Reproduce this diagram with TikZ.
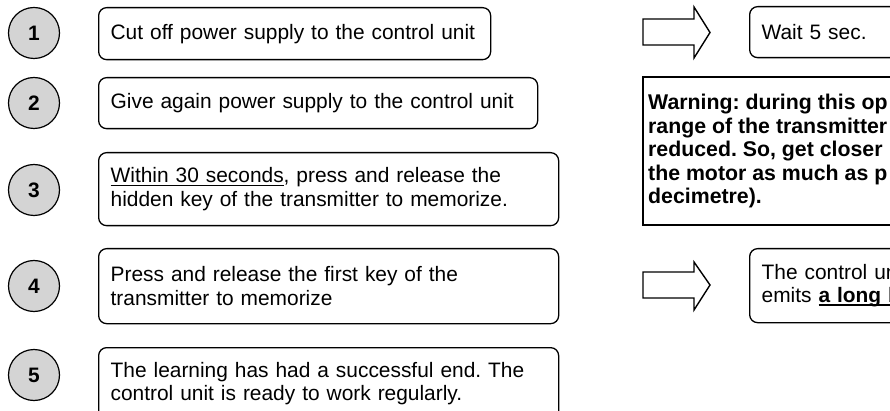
\documentclass[tikz,border=0pt]{standalone}
\usepackage{fontspec}
\setmainfont{Liberation Sans}
\frenchspacing
\definecolor{numgray}{RGB}{212,212,212}
% underline drawn as a rule under the boxed text
\newcommand\ulword[2][1.2pt]{\setbox0\hbox{#2}\rlap{\rule[-3pt]{\wd0}{#1}}\box0}
\begin{document}
\begin{tikzpicture}[x=1pt,y=-1pt,
  txt/.style={font=\fontsize{20.9}{23.5}\selectfont},
  stepnum/.style={circle, draw, line width=1.2pt, fill=numgray, minimum size=51pt,
    inner sep=0pt, font=\fontsize{20.9}{23.5}\selectfont\bfseries},
  stepbox/.style={draw, rounded corners=8pt, line width=1.3pt, anchor=north west,
    align=left, inner xsep=12pt, inner ysep=0pt, txt},
  blockarrow/.style={draw, line width=1.4pt, line join=miter, fill=white},
]
\useasboundingbox (0,0) rectangle (890,411);
\clip (0,0) rectangle (890,411);

% numbered steps
\node[stepnum] (c1) at (34,33)  {1};
\node[stepnum] (c2) at (34,103) {2};
\node[stepnum] (c3) at (34,190) {3};
\node[stepnum] (c4) at (34,286) {4};
\node[stepnum] (c5) at (34,375) {5};

% step descriptions
\node[stepbox, text width=368pt, minimum height=52pt] (b1) at (98,7)
  {Cut off power supply to the control unit};
\node[stepbox, text width=415pt, minimum height=51pt] (b2) at (98,77)
  {Give again power supply to the control unit};
\node[stepbox, text width=436pt, minimum height=73pt] (b3) at (98,152)
  {\ulword{Within 30 seconds}, press and release the\\hidden key of the transmitter to memorize.};
\node[stepbox, text width=436pt, minimum height=75pt] (b4) at (98,248)
  {Press and release the first key of the\\transmitter to memorize};
\node[stepbox, text width=436pt, minimum height=72pt] (b5) at (98,347)
  {The learning has had a successful end. The\\control unit is ready to work regularly.};

% block arrows
\draw[blockarrow] (643,19) -- (694,19) -- (694,7) -- (710,32.5) -- (694,58)
  -- (694,45) -- (643,45) -- cycle;
\draw[blockarrow] (643,272) -- (694,272) -- (694,262) -- (710,285) -- (694,310)
  -- (694,298) -- (643,298) -- cycle;

% results
\node[stepbox, text width=220pt, minimum height=51pt] (w1) at (749,6)
  {Wait 5 sec.};
\node[stepbox, text width=220pt, minimum height=74pt] (w4) at (749,248)
  {The control un\\emits \textbf{\ulword[2pt]{a long b}}};

% warning
\draw[line width=2.2pt] (643,77) rectangle (1000,225);
\node[font=\fontsize{21.3}{23.5}\selectfont\bfseries, anchor=west, align=left,
  inner sep=0pt] (warn) at (648,151)
  {Warning: during this op\\range of the transmitter\\reduced. So, get closer\\the motor as much as p\\decimetre).};
\end{tikzpicture}
\end{document}
